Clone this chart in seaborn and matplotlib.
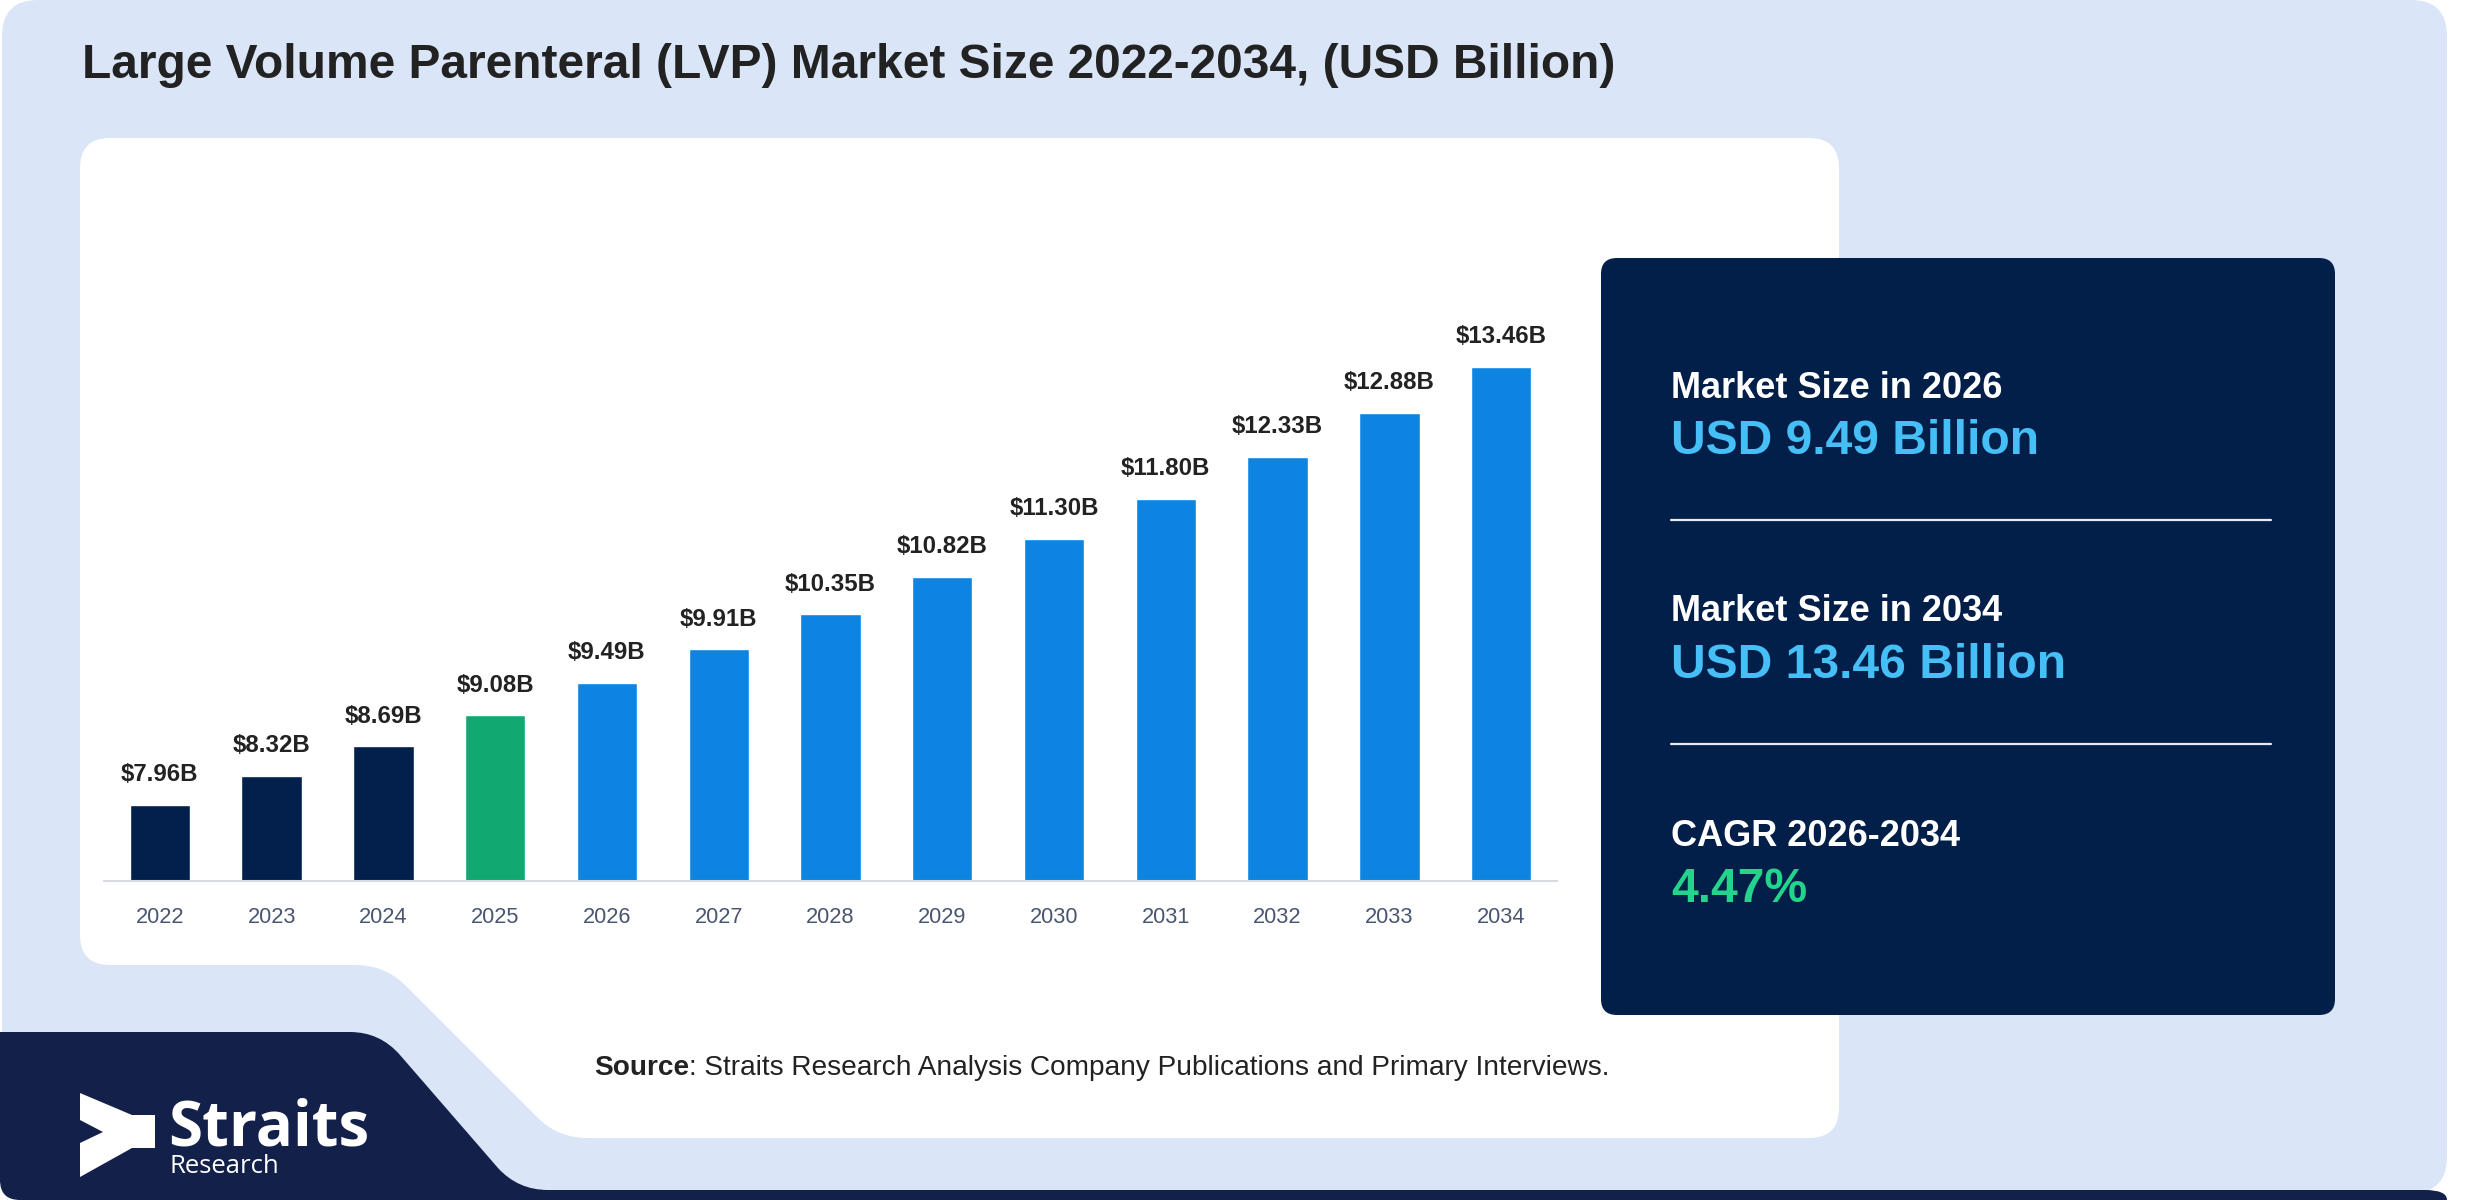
import matplotlib
matplotlib.use("Agg")
import matplotlib.pyplot as plt
import seaborn as sns
import pandas as pd
from matplotlib.path import Path
from matplotlib.patches import PathPatch, FancyBboxPatch, Polygon

# ---------------- data ----------------
years = ["2022", "2023", "2024", "2025", "2026", "2027", "2028",
         "2029", "2030", "2031", "2032", "2033", "2034"]
values = [7.96, 8.32, 8.69, 9.08, 9.49, 9.91, 10.35, 10.82, 11.30, 11.80, 12.33, 12.88, 13.46]
bar_labels = ["$7.96B", "$8.32B", "$8.69B", "$9.08B", "$9.49B", "$9.91B", "$10.35B",
              "$10.82B", "$11.30B", "$11.80B", "$12.33B", "$12.88B", "$13.46B"]
bar_colors = ["#02204b", "#02204b", "#02204b", "#12a872"] + ["#0c85e2"] * 9

title = "Large Volume Parenteral (LVP) Market Size 2022-2034, (USD Billion)"
panel_heads = ["Market Size in 2026", "Market Size in 2034", "CAGR 2026-2034"]
panel_vals = ["USD 9.49 Billion", "USD 13.46 Billion", "4.47%"]
panel_val_colors = ["#45bff5", "#45bff5", "#22d48c"]
source_bold = "Source"
source_rest = ": Straits Research Analysis Company Publications and Primary Interviews."

# ---------------- style ----------------
sns.set_theme(style="white")
plt.rcParams["font.family"] = ["Liberation Sans", "DejaVu Sans"]

W, H = 2480, 1200
fig = plt.figure(figsize=(W / 100, H / 100), dpi=100)
fig.patch.set_facecolor("white")

bg = fig.add_axes([0, 0, 1, 1])
bg.set_xlim(0, W)
bg.set_ylim(H, 0)
bg.axis("off")

LIGHT = "#dae6f8"
NAVY = "#13204a"
PANEL = "#021f4a"

# light blue outer card
bg.add_patch(FancyBboxPatch((2, 0), 2445, 1193, boxstyle="round,pad=0,rounding_size=36",
                            fc=LIGHT, ec="none", zorder=0))

# navy logo shape with bottom strip
M, L, C = Path.MOVETO, Path.LINETO, Path.CURVE3
navy_verts = [(0, 1032), (350, 1032), (380, 1032), (400, 1055), (498, 1168), (518, 1190),
              (548, 1190), (2425, 1190), (2447, 1190), (2447, 1200), (20, 1200), (0, 1200),
              (0, 1180), (0, 1032)]
navy_codes = [M, L, C, C, L, C, C, L, C, C, L, C, C, L]
bg.add_patch(PathPatch(Path(navy_verts, navy_codes), fc=NAVY, ec="none", zorder=1))

# white chart card with notched bottom-left
wv = [(110, 138), (1809, 138), (1839, 138), (1839, 168), (1839, 1108), (1839, 1138),
      (1809, 1138), (588, 1138), (558, 1138), (538, 1118), (405, 985), (385, 965),
      (355, 965), (110, 965), (80, 965), (80, 935), (80, 168), (80, 138), (110, 138)]
wc = [M, L, C, C, L, C, C, L, C, C, L, C, C, L, C, C, L, C, C]
bg.add_patch(PathPatch(Path(wv, wc), fc="white", ec="none", zorder=2))

# title
bg.text(82, 78, title, fontsize=34.5, fontweight="bold", color="#222222",
        va="baseline", ha="left", zorder=5)

# right info panel
bg.add_patch(FancyBboxPatch((1601, 258), 734, 757, boxstyle="round,pad=0,rounding_size=16",
                            fc=PANEL, ec="none", zorder=3))
head_y = [398, 621, 846]
val_y = [454, 678, 902]
for h, v, c, hy, vy in zip(panel_heads, panel_vals, panel_val_colors, head_y, val_y):
    bg.text(1671, hy, h, fontsize=26, fontweight="bold", color="white", va="baseline", zorder=5)
    bg.text(1671, vy, v, fontsize=34.6, fontweight="bold", color=c, va="baseline", zorder=5)
for ly in [520, 744]:
    bg.plot([1671, 2271], [ly, ly], color="#e6e9f0", lw=1.6, zorder=5)

# logo
icon = [(80, 1093), (132, 1115), (155, 1115), (155, 1148), (132, 1148), (80, 1177),
        (80, 1143), (103, 1132), (80, 1120)]
bg.add_patch(Polygon(icon, closed=True, fc="white", ec="none", zorder=5))
bg.text(168, 1146, "Straits", fontsize=44.5, fontweight="bold", color="white",
        family=["Open Sans", "DejaVu Sans"], va="baseline", zorder=5)
bg.text(170, 1173, "Research", fontsize=18.5, color="white",
        family=["Open Sans", "DejaVu Sans"], va="baseline", zorder=5)

# source line
t1 = bg.text(594, 1075, source_bold, fontsize=20.2, fontweight="bold", color="#222222",
             va="baseline", zorder=5)
fig.canvas.draw()
bb = t1.get_window_extent()
x_end = bb.x1  # pixels (axes spans full figure)
bg.text(x_end, 1075, source_rest, fontsize=20.2, color="#222222", va="baseline", zorder=5)

# ---------------- bar chart ----------------
ax_left, ax_right, ax_bottom, px_per_unit = 104, 1557, 881, 79.6
ymin, ymax = 7.0, 15.0
ax_h = (ymax - ymin) * px_per_unit
ax = fig.add_axes([ax_left / W, (H - ax_bottom) / H, (ax_right - ax_left) / W, ax_h / H])
ax.patch.set_alpha(0)

df = pd.DataFrame({"year": years, "value": values})
sns.barplot(data=df, x="year", y="value", hue="year", palette=bar_colors,
            legend=False, width=0.54, ax=ax, saturation=1)
ax.set_xlim(-0.5, len(years) - 0.5)
ax.set_ylim(ymin, ymax)
ax.set_xlabel("")
ax.set_ylabel("")
ax.set_yticks([])
for s in ["top", "left", "right"]:
    ax.spines[s].set_visible(False)
ax.spines["bottom"].set_color("#d8dbe0")
ax.spines["bottom"].set_linewidth(1.5)
ax.tick_params(axis="x", length=0, pad=18.5, labelsize=15.7, labelcolor="#4a5670")

for i, (v, lab) in enumerate(zip(values, bar_labels)):
    ax.annotate(lab, (i, v), xytext=(0, 17), textcoords="offset points",
                ha="center", va="baseline", fontsize=17.3, fontweight="bold", color="#222222")

fig.savefig("out.png", dpi=100, facecolor="white")
